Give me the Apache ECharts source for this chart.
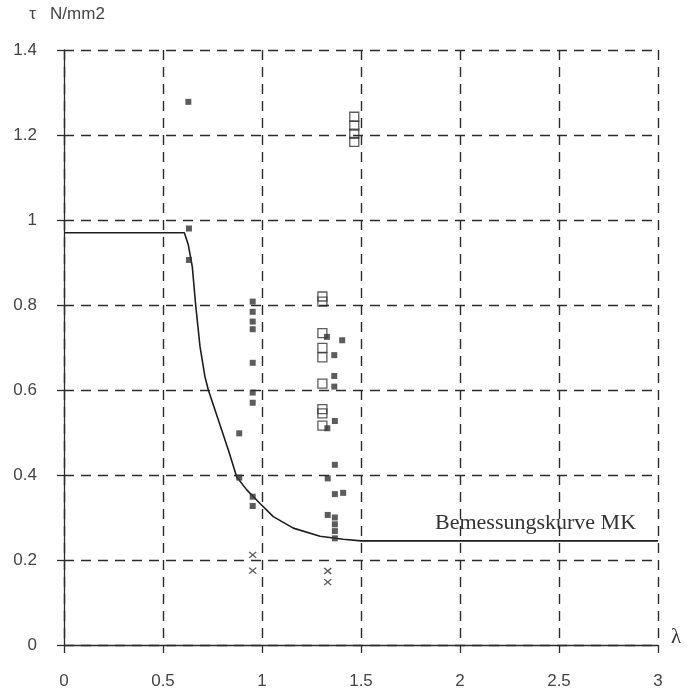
<!DOCTYPE html>
<html lang="de">
<head>
	<meta charset="UTF-8">
	<title>Bemessungskurve MK</title>
	<style type="text/css">
		html, body{ margin: 0; padding: 0; background: #fff; }
		#chart{ width: 693px; height: 695px; }
	</style>
</head>
<body>
	<div id="chart"></div>
	<script type="text/javascript" src="https://cdn.jsdelivr.net/npm/echarts@6/dist/echarts.min.js"></script>
	<script type="text/javascript">
		// Achsen
		var xTicks = [0, 0.5, 1, 1.5, 2, 2.5, 3];
		var yTicks = [0, 0.2, 0.4, 0.6, 0.8, 1, 1.2, 1.4];

		// Bemessungskurve MK (lambda, tau)
		var curveLambda = [0, 0.608, 0.628, 0.648, 0.665, 0.687, 0.712, 0.729, 0.78, 0.83, 0.872, 0.923, 0.99, 1.057, 1.158, 1.293, 1.41, 1.5, 3];
		var curveTau    = [0.97, 0.97, 0.941, 0.89, 0.80, 0.702, 0.631, 0.60, 0.529, 0.459, 0.396, 0.365, 0.333, 0.302, 0.275, 0.256, 0.249, 0.245, 0.245];

		// Versuchswerte, gefuellte Quadrate
		var filledLambda = [0.628, 0.631, 0.631, 0.953, 0.953, 0.953, 0.953, 0.953, 0.953, 0.953, 0.885, 0.885, 0.953, 0.953,
			1.328, 1.405, 1.365, 1.365, 1.365, 1.368, 1.330, 1.368, 1.332, 1.368, 1.410, 1.332, 1.368, 1.368, 1.368, 1.368];
		var filledTau = [1.278, 0.98, 0.906, 0.808, 0.784, 0.761, 0.743, 0.664, 0.594, 0.570, 0.498, 0.394, 0.349, 0.327,
			0.725, 0.717, 0.682, 0.633, 0.608, 0.527, 0.510, 0.424, 0.392, 0.355, 0.358, 0.306, 0.300, 0.284, 0.268, 0.251];

		// offene Quadrate
		var openLambda = [1.305, 1.305, 1.305, 1.305, 1.305, 1.305, 1.305, 1.305, 1.305, 1.466, 1.466, 1.466, 1.466];
		var openTau    = [0.820, 0.808, 0.734, 0.699, 0.677, 0.615, 0.555, 0.545, 0.516, 1.243, 1.222, 1.203, 1.184];

		// Kreuze
		var crossLambda = [0.953, 0.953, 1.332, 1.332];
		var crossTau    = [0.212, 0.175, 0.174, 0.148];

		function pairs(xs, ys){
			var out = [];
			xs.forEach(function (x, i){ out.push([x, ys[i]]); });
			return out;
		}

		var ink = '#2b2b2b';
		var myChart = echarts.init(document.getElementById('chart'));
		var option = {
			animation: false,
			backgroundColor: '#fff',
			grid: { left: 64, right: 35, top: 50, bottom: 50 },
			xAxis: {
				type: 'value',
				min: xTicks[0], max: xTicks[xTicks.length - 1], interval: 0.5,
				name: 'λ',
				nameLocation: 'end',
				nameGap: 13,
				nameTextStyle: { fontFamily: 'Liberation Serif', fontSize: 21, color: '#333', verticalAlign: 'bottom', padding: [0, 0, -3, 0] },
				axisLine: { lineStyle: { color: ink, width: 1.3 } },
				axisTick: { length: 8, lineStyle: { color: ink, width: 1.3 } },
				axisLabel: { margin: 28, fontFamily: 'Liberation Sans', fontSize: 17, color: '#444',
					formatter: function (v){ return String(v); } },
				splitLine: { show: true, lineStyle: { color: ink, width: 1.4, type: [10, 7] } }
			},
			yAxis: {
				type: 'value',
				min: yTicks[0], max: yTicks[yTicks.length - 1], interval: 0.2,
				name: 'τ   N/mm2',
				nameLocation: 'end',
				nameGap: 27,
				nameTextStyle: { fontFamily: 'Liberation Sans', fontSize: 17, color: '#444', align: 'center', padding: [0, 0, 0, 6] },
				axisLine: { show: true, lineStyle: { color: ink, width: 1.3 } },
				axisTick: { show: true, length: 7, lineStyle: { color: ink, width: 1.3 } },
				axisLabel: { margin: 27, fontFamily: 'Liberation Sans', fontSize: 17, color: '#444',
					formatter: function (v){ return String(Math.round(v * 10) / 10); } },
				splitLine: { show: true, lineStyle: { color: ink, width: 1.4, type: [10, 7] } }
			},
			graphic: [{
				type: 'text',
				left: 435, top: 512,
				style: { text: 'Bemessungskurve MK', font: '22px "Liberation Serif"', fill: '#333' }
			}],
			series: [
				{
					name: 'Bemessungskurve MK',
					type: 'line',
					data: pairs(curveLambda, curveTau),
					showSymbol: false,
					lineStyle: { color: '#1e1e1e', width: 1.6 },
					z: 3
				},
				{
					type: 'scatter',
					data: pairs(filledLambda, filledTau),
					symbol: 'rect',
					symbolSize: 6,
					itemStyle: { color: '#333' },
					z: 4
				},
				{
					type: 'scatter',
					data: pairs(openLambda, openTau),
					symbol: 'rect',
					symbolSize: 9,
					itemStyle: { color: 'rgba(0,0,0,0)', borderColor: '#333', borderWidth: 1.3 },
					z: 4
				},
				{
					type: 'scatter',
					data: pairs(crossLambda, crossTau),
					symbol: 'path://M0,0L10,10M10,0L0,10',
					symbolSize: [7, 6],
					itemStyle: { color: 'none', borderColor: '#333', borderWidth: 1.4 },
					z: 4
				}
			]
		};
		myChart.setOption(option);
	</script>
</body>
</html>
